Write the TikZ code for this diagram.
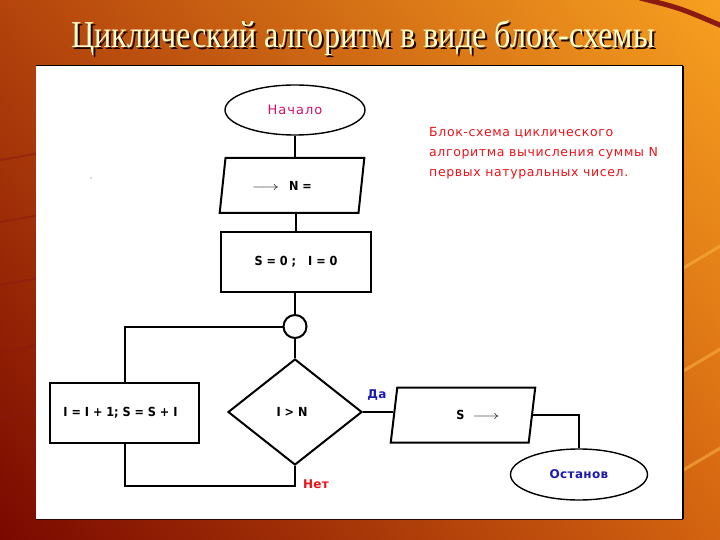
\documentclass[tikz,border=0pt]{standalone}
\usepackage{fontspec}
\setmainfont{Liberation Serif}
\newfontfamily\fcf[LetterSpace=3]{DejaVu Sans}
\newfontfamily\fcs[LetterSpace=8]{DejaVu Sans}
\newfontfamily\fcd[LetterSpace=5]{DejaVu Sans}
\newfontfamily\fcb[FakeStretch=0.9]{DejaVu Sans}
\usetikzlibrary{shapes.geometric,shadings}
\definecolor{bgUL}{HTML}{B4440C}
\definecolor{bgUR}{HTML}{F7A020}
\definecolor{bgLL}{HTML}{7A0800}
\definecolor{bgLR}{HTML}{D46410}
\definecolor{titleYel}{HTML}{FFFFCC}
\definecolor{startPink}{HTML}{D0106A}
\definecolor{descRed}{HTML}{E8141B}
\definecolor{labBlue}{HTML}{1A1AB0}
\definecolor{swoosh}{HTML}{8A1A12}
\definecolor{lightsw}{HTML}{F8B040}
\newcommand{\longarr}{\scalebox{1.4}[1]{$\longrightarrow$}}
\begin{document}
\begin{tikzpicture}[x=1pt,y=-1pt,
  line/.style={line width=2pt, black},
  base/.style={draw=black, line width=2pt, fill=white, font=\fcb\bfseries\fontsize{12.5}{14}\selectfont, inner sep=0pt},
  term/.style={base, ellipse, line width=1.4pt},
  proc/.style={base, rectangle, minimum width=150pt, minimum height=60pt},
  io/.style={base, trapezium, trapezium left angle=69, trapezium right angle=111, trapezium stretches=true, minimum width=145pt, minimum height=55pt},
  dec/.style={base, diamond, minimum width=134pt, minimum height=106pt},
  junc/.style={base, circle, minimum size=23pt},
  lab/.style={font=\fcf\fontsize{12}{14}\selectfont, inner sep=0pt},
]
\useasboundingbox (0,0) rectangle (720,540);
% background
\shade[upper left=bgUL, upper right=bgUR, lower left=bgLL, lower right=bgLR] (0,0) rectangle (720,540);
\draw[swoosh, line width=5pt] (640,-2) .. controls (680,8) .. (722,26);
\foreach \yy in {160,222,285,352,418} {\draw[swoosh, opacity=0.5, line width=2pt] (0,\yy) -- (40,\yy-7);}
\foreach \yy in {270,373,472} {\draw[lightsw, opacity=0.6, line width=3pt] (680,\yy) -- (722,\yy-25);}
% panel
\fill[white] (36,66) rectangle (683,519);
\draw[black, line width=1pt] (36,66) -- (683,66);
\draw[black, line width=2pt] (683,66) -- (683,519);
\draw[black!70!swoosh, line width=1pt] (36,519) -- (683,519);
\fill[black!60] (91,178) circle (0.6);
% title
\node[text=black!80!swoosh, font=\fontsize{38}{40}\selectfont] at (365,40) {\scalebox{0.85}[1]{Циклический алгоритм в виде блок-схемы}};
\node[text=titleYel, font=\fontsize{38}{40}\selectfont] (title) at (363,38) {\scalebox{0.85}[1]{Циклический алгоритм в виде блок-схемы}};
% flowchart
\node[term, minimum width=140pt, minimum height=50pt, font=\fcs\fontsize{13}{15}\selectfont] (start) at (295,110) {\color{startPink}Начало};
\node[io] (in) at (292,185.5) {\longarr\hspace{10pt}N =\hspace*{20pt}};
\node[proc] (init) at (296,262) {S = 0 ;\hspace{12pt}I = 0};
\node[junc] (j) at (295,326.5) {};
\node[dec] (cond) at (295,412) {I > N\hspace*{6pt}};
\node[proc, minimum width=149pt] (body) at (124.5,413) {I = I + 1; S = S + I\hspace*{8pt}};
\node[io] (out) at (463,415) {\hspace*{30pt}S\hspace{8pt}\longarr};
\node[term, minimum width=137pt, minimum height=51pt, font=\fcf\bfseries\fontsize{12}{14}\selectfont] (stop) at (579,474.5) {\color{labBlue}Останов};
\coordinate (loopb) at (124.5,486);
% connectors
\draw[line] (start.south) -- (start.south |- in.north);
\draw[line] (init.north |- in.south) -- (init.north);
\draw[line] (j.north |- init.south) -- (j.north);
\draw[line] (j.south) -- (cond.north);
\draw[line] (j.west) -| (body.north);
\draw[line] (body.south) -- (loopb) -| (cond.south);
\draw[line] (cond.east) -- (cond.east -| out.west);
\draw[line] (out.east) -| (stop.north);
% labels
\node[lab, text=labBlue, font=\fcf\bfseries\fontsize{12}{14}\selectfont] (da) at (377,395) {Да};
\node[lab, text=descRed, font=\fcf\bfseries\fontsize{12}{14}\selectfont] (net) at (316,484) {Нет};
\node[lab, text=descRed, align=left, anchor=north west, font=\fcd\fontsize{12.5}{20}\selectfont] (desc) at (429,127) {Блок-схема циклического\\алгоритма вычисления суммы N\\первых натуральных чисел.};
\end{tikzpicture}
\end{document}
